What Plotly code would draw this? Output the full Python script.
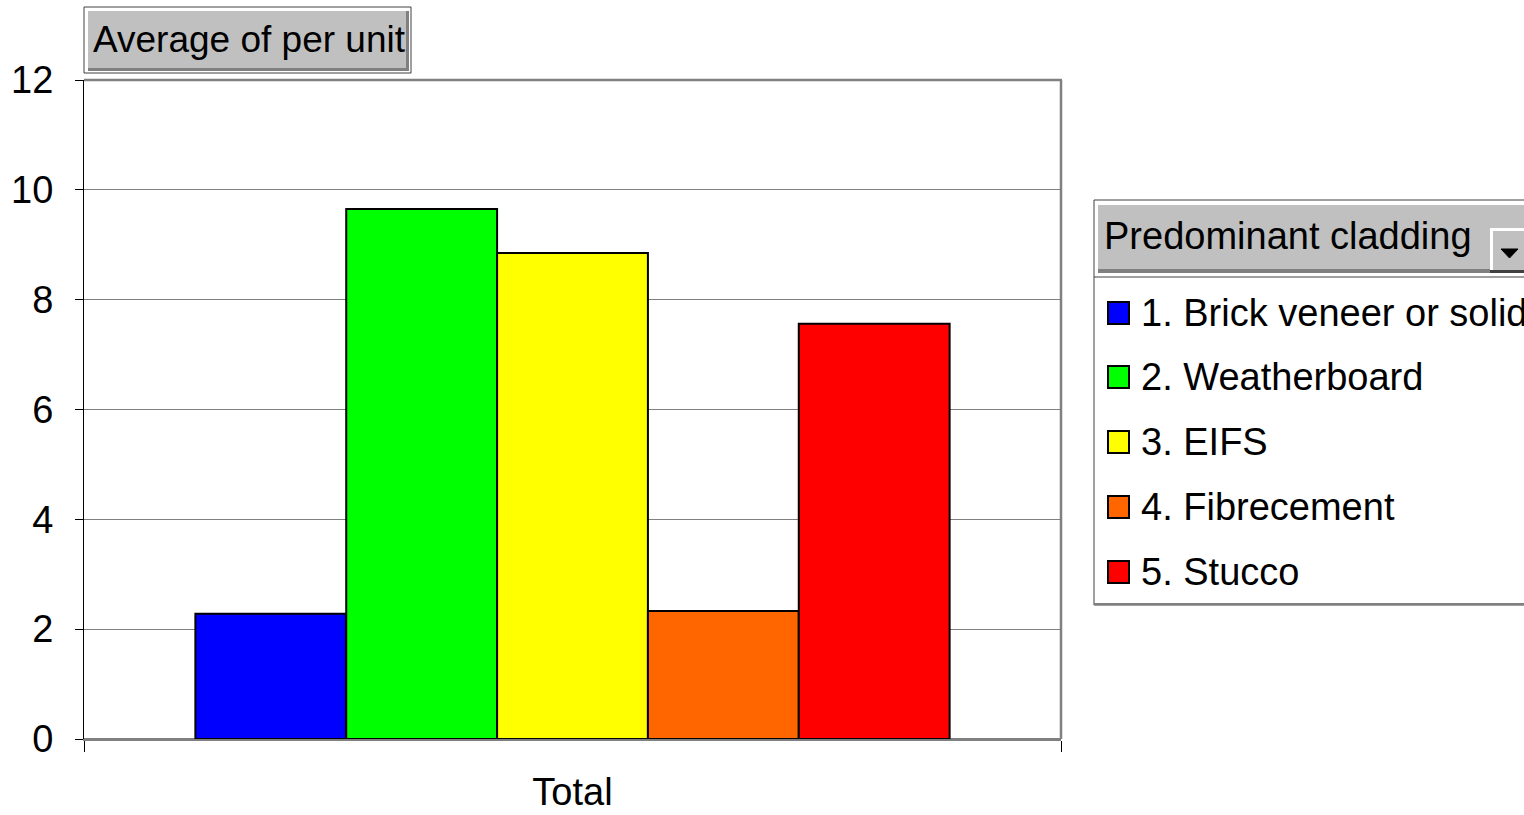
import plotly.graph_objects as go

# Pivot data: average per unit by predominant cladding
categories = ["Total"]
series_names = [
    "1. Brick veneer or solid",
    "2. Weatherboard",
    "3. EIFS",
    "4. Fibrecement",
    "5. Stucco",
]
series_values = [2.28, 9.65, 8.85, 2.33, 7.56]
series_colors = ["#0000FF", "#00FF00", "#FFFF00", "#FF6600", "#FF0000"]
y_ticks = [0, 2, 4, 6, 8, 10, 12]
value_field = "Average of per unit"
series_field = "Predominant cladding"

W, H = 1524, 815
L, R, T, B = 84, 1061, 80, 739   # plot area edges in pixels
FONT = "Liberation Sans, Arial, sans-serif"


def px(x):
    return (x - L) / (R - L)


def py(y):
    return (B - y) / (B - T)


fig = go.Figure()
for name, val, col in zip(series_names, series_values, series_colors):
    fig.add_trace(go.Bar(
        x=categories, y=[val], name=name,
        marker=dict(color=col, line=dict(color="black", width=2)),
        showlegend=False,
    ))

shapes = []
annotations = []


def rect(x0, y0, x1, y1, fill=None, line=None, lw=1):
    shapes.append(dict(
        type="rect", xref="paper", yref="paper",
        x0=px(x0), x1=px(x1), y0=py(y0), y1=py(y1),
        fillcolor=fill if fill else "rgba(0,0,0,0)",
        line=dict(color=line if line else "rgba(0,0,0,0)", width=lw if line else 0),
        layer="above",
    ))


def hline(x0, x1, y, color, lw):
    shapes.append(dict(type="line", xref="paper", yref="paper",
                       x0=px(x0), x1=px(x1), y0=py(y), y1=py(y),
                       line=dict(color=color, width=lw), layer="above"))


def vline(x, y0, y1, color, lw):
    shapes.append(dict(type="line", xref="paper", yref="paper",
                       x0=px(x), x1=px(x), y0=py(y0), y1=py(y1),
                       line=dict(color=color, width=lw), layer="above"))


# plot area frame: grey top and right edges
hline(L, R + 1, T, "#808080", 2.5)
vline(R, T, B, "#808080", 2.5)

# value-field button above the plot
rect(84, 7, 411, 73, fill="white", line="#404040", lw=1)
rect(88, 11, 409, 71, fill="#808080")
rect(88, 11, 406, 68, fill="#C0C0C0")
annotations.append(dict(
    xref="paper", yref="paper", x=px(91), y=py(39), xanchor="left", yanchor="middle",
    text=value_field, showarrow=False, font=dict(family=FONT, size=37, color="black"),
))

# legend panel with series-field button
rect(1094, 200, 1540, 605, fill="white", line="#404040", lw=1)
rect(1098, 205, 1540, 273, fill="#808080")
rect(1098, 205, 1540, 269, fill="#C0C0C0")
hline(1094, 1540, 277, "#404040", 1)
hline(1094, 1540, 604, "#808080", 2)
annotations.append(dict(
    xref="paper", yref="paper", x=px(1102), y=py(236), xanchor="left", yanchor="middle",
    text=series_field, showarrow=False, font=dict(family=FONT, size=38, color="black"),
))
# drop-down arrow button
rect(1490, 228, 1540, 273, fill="#404040")
rect(1490, 228, 1540, 270, fill="white")
rect(1493, 231, 1540, 270, fill="#C0C0C0")
shapes.append(dict(
    type="path", xref="paper", yref="paper",
    path="M {a},{b} L {c},{b} L {d},{e} Z".format(
        a=px(1501), c=px(1518), b=py(249), d=px(1509.5), e=py(258)),
    fillcolor="black", line=dict(color="black", width=1), layer="above",
))

# legend entries
row_y = [313, 377, 442, 507, 572]
for name, col, yc in zip(series_names, series_colors, row_y):
    rect(1108, yc - 11, 1129, yc + 11, fill=col, line="black", lw=2)
    annotations.append(dict(
        xref="paper", yref="paper", x=px(1139), y=py(yc), xanchor="left", yanchor="middle",
        text=name, showarrow=False, font=dict(family=FONT, size=38, color="black"),
    ))

fig.update_layout(
    width=W, height=H,
    margin=dict(l=L, r=W - R, t=T, b=H - B, pad=0, autoexpand=False),
    paper_bgcolor="white", plot_bgcolor="white",
    barmode="group", bargap=0.228, bargroupgap=0,
    font=dict(family=FONT, size=38, color="black"),
    shapes=shapes, annotations=annotations,
    showlegend=False,
    xaxis=dict(
        type="category", range=[-0.5, 0.5], automargin=False,
        showline=True, linecolor="#808080", linewidth=2,
        ticks="outside", tickson="boundaries", ticklen=11, tickcolor="black", tickwidth=1,
        tickfont=dict(family=FONT, size=38, color="black"),
        ticklabelstandoff=18, showgrid=False,
    ),
    yaxis=dict(
        range=[0, 12], tickvals=y_ticks, ticktext=[str(v) for v in y_ticks],
        automargin=False,
        showline=True, linecolor="black", linewidth=1,
        ticks="outside", ticklen=8, tickcolor="black", tickwidth=1,
        tickfont=dict(family=FONT, size=38, color="black"),
        ticklabelstandoff=14,
        showgrid=True, gridcolor="#808080", gridwidth=1,
        zeroline=True, zerolinecolor="#808080", zerolinewidth=2,
    ),
)

fig.write_html("out.html")
